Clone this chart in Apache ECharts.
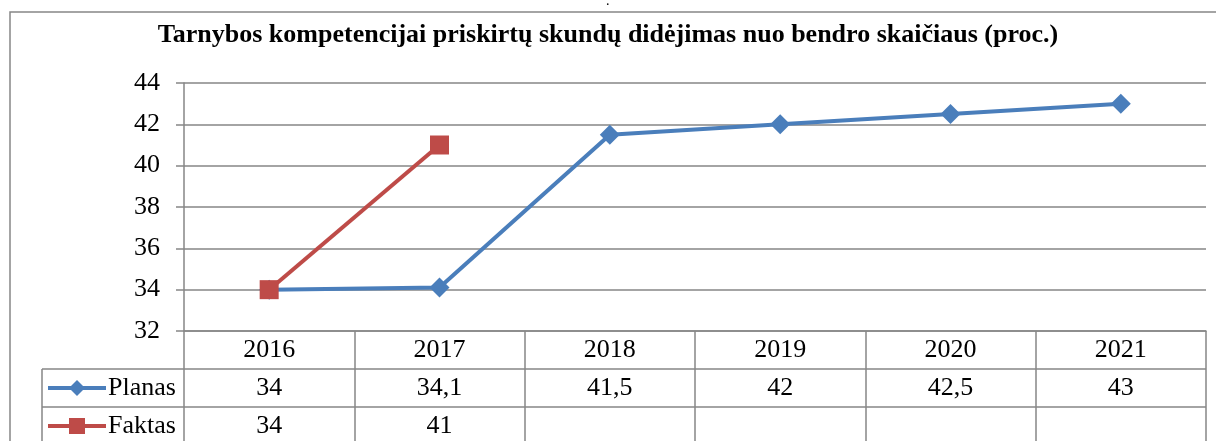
<!DOCTYPE html>
<html>
<head>
<meta charset="utf-8">
<script src="https://cdn.jsdelivr.net/npm/echarts@6/dist/echarts.min.js"></script>
<style>
  html, body { margin: 0; padding: 0; background: #fff; }
  #chart { width: 1216px; height: 441px; }
</style>
</head>
<body>
<div id="chart"></div>
<script>
var years = ['2016', '2017', '2018', '2019', '2020', '2021'];
var planas = [34, 34.1, 41.5, 42, 42.5, 43];
var faktas = [34, 41, null, null, null, null];
var yTicks = { min: 32, max: 44, step: 2 };

var font = '"Liberation Serif", "Times New Roman", serif';
var gray = '#868686';

function fmt(v) {
  return v == null ? '' : String(v).replace('.', ',');
}

var myChart = echarts.init(document.getElementById('chart'));

var option = {
  backgroundColor: '#fff',
  animation: false,
  title: {
    text: 'Tarnybos kompetencijai priskirtų skundų didėjimas nuo bendro skaičiaus (proc.)',
    left: 'center',
    top: 17,
    textStyle: { fontFamily: font, fontSize: 26, fontWeight: 'bold', color: '#000' }
  },
  legend: {
    orient: 'vertical',
    left: 46,
    top: 375,
    padding: 0,
    itemGap: 12,
    itemWidth: 58,
    itemHeight: 20,
    lineStyle: { width: 4 },
    textStyle: { fontFamily: font, fontSize: 26, color: '#000', padding: [0, 0, 0, -3] },
    data: ['Planas', 'Faktas']
  },
  grid: { left: 184, right: 10, top: 83, bottom: 110, outerBoundsMode: 'none', containLabel: false },
  xAxis: {
    type: 'category',
    data: years,
    boundaryGap: true,
    axisLine: { show: true, lineStyle: { color: gray, width: 1.5 } },
    axisTick: { show: true, length: 112, lineStyle: { color: gray, width: 1.5 } },
    axisLabel: {
      margin: 0,
      fontFamily: font,
      fontSize: 26,
      color: '#000',
      lineHeight: 38,
      verticalAlign: 'top',
      formatter: function (value, index) {
        return value + '\n' + fmt(planas[index]) + '\n' + fmt(faktas[index]);
      }
    }
  },
  yAxis: {
    type: 'value',
    min: yTicks.min,
    max: yTicks.max,
    interval: yTicks.step,
    axisLine: { show: true, lineStyle: { color: gray, width: 1.5 } },
    axisTick: { show: true, length: 8, lineStyle: { color: gray, width: 1.5 } },
    splitLine: { show: true, lineStyle: { color: gray, width: 1.5 } },
    axisLabel: { margin: 24, fontFamily: font, fontSize: 26, color: '#000' }
  },
  graphic: [
    { type: 'rect', shape: { x: 10, y: 12, width: 1230, height: 460 }, style: { fill: 'none', stroke: gray, lineWidth: 1.5 }, z: 0 },
    { type: 'text', x: 606, y: -6, style: { text: '.', font: '14px ' + font, fill: '#000' } },
    { type: 'line', shape: { x1: 42, y1: 369, x2: 1206, y2: 369 }, style: { stroke: gray, lineWidth: 1.5 } },
    { type: 'line', shape: { x1: 42, y1: 407, x2: 1206, y2: 407 }, style: { stroke: gray, lineWidth: 1.5 } },
    { type: 'line', shape: { x1: 42, y1: 369, x2: 42, y2: 445 }, style: { stroke: gray, lineWidth: 1.5 } }
  ],
  series: [
    {
      name: 'Planas',
      type: 'line',
      data: planas,
      symbol: 'diamond',
      symbolSize: 20,
      lineStyle: { color: '#4a7ebb', width: 4 },
      itemStyle: { color: '#4a7ebb' },
      z: 3
    },
    {
      name: 'Faktas',
      type: 'line',
      data: faktas,
      symbol: 'rect',
      symbolSize: 19,
      lineStyle: { color: '#be4b48', width: 4 },
      itemStyle: { color: '#be4b48' },
      z: 4
    }
  ]
};

myChart.setOption(option);
</script>
</body>
</html>
